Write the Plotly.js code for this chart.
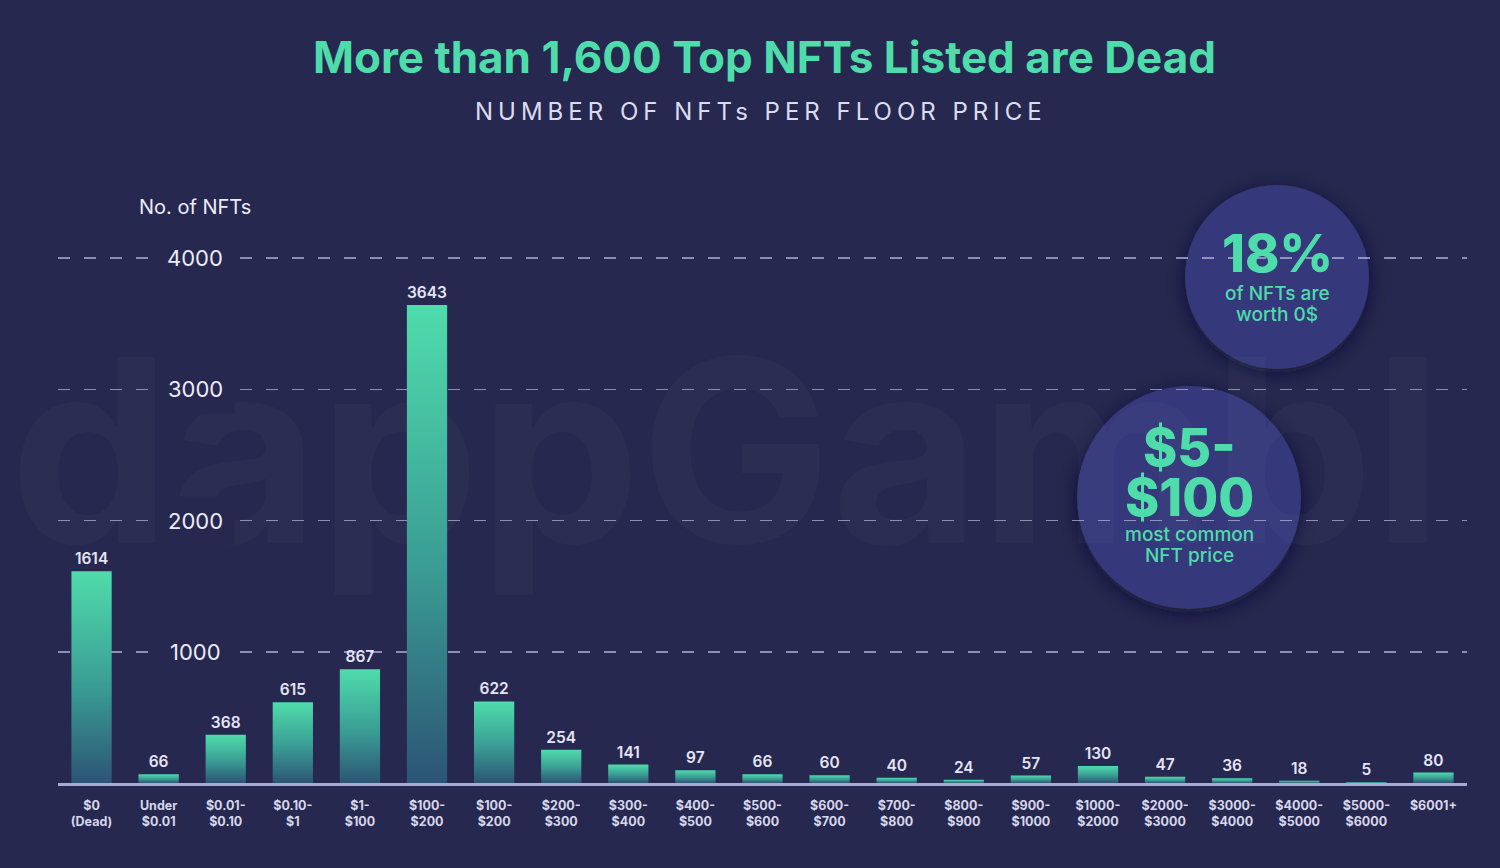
<!DOCTYPE html>
<html>
<head>
<meta charset="utf-8">
<script src="https://cdn.plot.ly/plotly-3.0.1.min.js"></script>
<style>
  html, body { margin: 0; padding: 0; background: #26284f; }
  #chart { width: 1500px; height: 868px; }
</style>
</head>
<body>
<div id="chart"></div>
<script>
// floor price buckets (note: "$100-$200" appears twice in the source)
var priceLabels = ['$0<br>(Dead)', 'Under<br>$0.01', '$0.01-<br>$0.10', '$0.10-<br>$1', '$1-<br>$100',
  '$100-<br>$200', '$100-<br>$200', '$200-<br>$300', '$300-<br>$400', '$400-<br>$500',
  '$500-<br>$600', '$600-<br>$700', '$700-<br>$800', '$800-<br>$900', '$900-<br>$1000',
  '$1000-<br>$2000', '$2000-<br>$3000', '$3000-<br>$4000', '$4000-<br>$5000', '$5000-<br>$6000', '$6001+'];
var nftCounts = [1614, 66, 368, 615, 867, 3643, 622, 254, 141, 97, 66, 60, 40, 24, 57, 130, 47, 36, 18, 5, 80];
var yTicks = [1000, 2000, 3000, 4000];

var bg = '#26284f';
var teal = '#4fdcab';
var pale = '#dcdcf0';

var idx = priceLabels.map(function (d, i) { return i; });

// plot box in pixels, used to place things in paper coords
var L = 58, R = 1467, T = 160, B = 783;
function px(x) { return (x - L) / (R - L); }
function py(y) { return (B - y) / (B - T); }

var trace1 = {
  x: idx,
  y: nftCounts,
  type: 'bar',
  marker: { color: teal },
  text: nftCounts.map(String),
  textposition: 'outside',
  cliponaxis: false,
  textfont: { family: 'Inter, sans-serif', size: 15.5, color: '#e4e4f4', weight: 600 },
  hoverinfo: 'x+y'
};

var annotations = [];

// faint watermark, moved under the plot after drawing
annotations.push({
  xref: 'paper', yref: 'paper', x: px(8), y: py(450), xanchor: 'left', yanchor: 'middle',
  text: 'dappGambl', showarrow: false,
  font: { family: 'Inter, sans-serif', size: 255, weight: 700, color: 'rgba(255,255,255,0.028)' }
});

annotations.push({
  xref: 'paper', yref: 'paper', x: px(764), y: py(57), xanchor: 'center', yanchor: 'middle',
  text: 'More than 1,600 Top NFTs Listed are Dead', showarrow: false,
  font: { family: 'Inter, sans-serif', size: 44, weight: 700, color: teal }
});
annotations.push({
  xref: 'paper', yref: 'paper', x: px(761), y: py(111), xanchor: 'center', yanchor: 'middle',
  text: 'NUMBER OF NFTs PER FLOOR PRICE', showarrow: false,
  font: { family: 'Inter, sans-serif', size: 24, weight: 400, color: pale }
});
annotations.push({
  xref: 'paper', yref: 'paper', x: px(195), y: py(207), xanchor: 'center', yanchor: 'middle',
  text: 'No. of NFTs', showarrow: false,
  font: { family: 'Inter, sans-serif', size: 20, color: '#ececf8' }
});

yTicks.forEach(function (v) {
  annotations.push({
    xref: 'paper', yref: 'y', x: px(195), y: v, xanchor: 'center', yanchor: 'middle',
    text: String(v), showarrow: false, bgcolor: bg, borderpad: 11,
    font: { family: 'Inter, sans-serif', size: 22, color: '#ececf8' }
  });
});

// circle callouts
var bigFont = { family: 'Inter, sans-serif', size: 52, weight: 800, color: teal };
var smallFont = { family: 'Inter, sans-serif', size: 19, weight: 500, color: teal };
function note(x, y, t, f) {
  annotations.push({ xref: 'paper', yref: 'paper', x: px(x), y: py(y), xanchor: 'center', yanchor: 'middle',
    text: t, showarrow: false, font: f });
}
note(1277, 253, '18%', bigFont);
note(1277, 293, 'of NFTs are', smallFont);
note(1277, 314, 'worth 0$', smallFont);
note(1189, 447, '$5-', bigFont);
note(1189, 497, '$100', bigFont);
note(1189, 534, 'most common', smallFont);
note(1189, 555, 'NFT price', smallFont);

var shapes = [
  { type: 'circle', xref: 'paper', yref: 'paper', layer: 'between',
    x0: px(1185), x1: px(1369), y0: py(369), y1: py(185),
    fillcolor: '#34387a', line: { width: 0 } },
  { type: 'circle', xref: 'paper', yref: 'paper', layer: 'between',
    x0: px(1077), x1: px(1301), y0: py(609), y1: py(386),
    fillcolor: '#34387a', line: { width: 0 } }
];

var layout = {
  width: 1500, height: 868,
  paper_bgcolor: bg, plot_bgcolor: 'rgba(0,0,0,0)',
  margin: { l: L, r: 1500 - R, t: T, b: 868 - B },
  showlegend: false,
  bargap: 0.4,
  xaxis: {
    range: [-0.5, priceLabels.length - 0.5],
    tickvals: idx, ticktext: priceLabels,
    tickfont: { family: 'Inter, sans-serif', size: 12.5, weight: 700, color: '#d6d6ec' },
    ticklabelstandoff: 9,
    showline: true, linecolor: '#a8aad6', linewidth: 3,
    showgrid: false, zeroline: false, ticks: '', fixedrange: true
  },
  yaxis: {
    range: [0, 4748],
    tickvals: yTicks, showticklabels: false,
    showgrid: true, gridcolor: 'rgba(185,185,222,0.7)', gridwidth: 1.5, griddash: '12px,14px',
    zeroline: false, showline: false, fixedrange: true
  },
  shapes: shapes,
  annotations: annotations
};

Plotly.newPlot('chart', [trace1], layout, { displayModeBar: false, staticPlot: true }).then(function (gd) {
  var NS = 'http://www.w3.org/2000/svg';
  var svg = gd.querySelector('svg.main-svg');
  var defs = svg.querySelector('defs') || svg.insertBefore(document.createElementNS(NS, 'defs'), svg.firstChild);

  var grad = document.createElementNS(NS, 'linearGradient');
  grad.setAttribute('id', 'barGrad');
  grad.setAttribute('x1', '0'); grad.setAttribute('y1', '0');
  grad.setAttribute('x2', '0'); grad.setAttribute('y2', '1');
  [['0', '#4fdcab'], ['0.55', '#3a9c94'], ['1', '#2c5575']].forEach(function (s) {
    var st = document.createElementNS(NS, 'stop');
    st.setAttribute('offset', s[0]); st.setAttribute('stop-color', s[1]);
    grad.appendChild(st);
  });
  defs.appendChild(grad);

  var filt = document.createElementNS(NS, 'filter');
  filt.setAttribute('id', 'circShadow');
  filt.setAttribute('x', '-30%'); filt.setAttribute('y', '-30%');
  filt.setAttribute('width', '160%'); filt.setAttribute('height', '160%');
  filt.innerHTML = '<feDropShadow dx="0" dy="4" stdDeviation="10" flood-color="#12132e" flood-opacity="0.7"/>';
  defs.appendChild(filt);

  gd.querySelectorAll('.bars .point path').forEach(function (p) {
    p.style.fill = 'url(#barGrad)';
  });
  gd.querySelectorAll('.shapelayer path').forEach(function (p) {
    p.setAttribute('filter', 'url(#circShadow)');
  });
  var cart = svg.querySelector('.cartesianlayer');
  gd.querySelectorAll('.annotation').forEach(function (a) {
    var t = a.querySelector('.annotation-text');
    if (!t) return;
    if (t.textContent === 'NUMBER OF NFTs PER FLOOR PRICE') t.style.letterSpacing = '5px';
    if (t.textContent === 'dappGambl' && cart) cart.parentNode.insertBefore(a, cart);
  });
});
</script>
</body>
</html>
